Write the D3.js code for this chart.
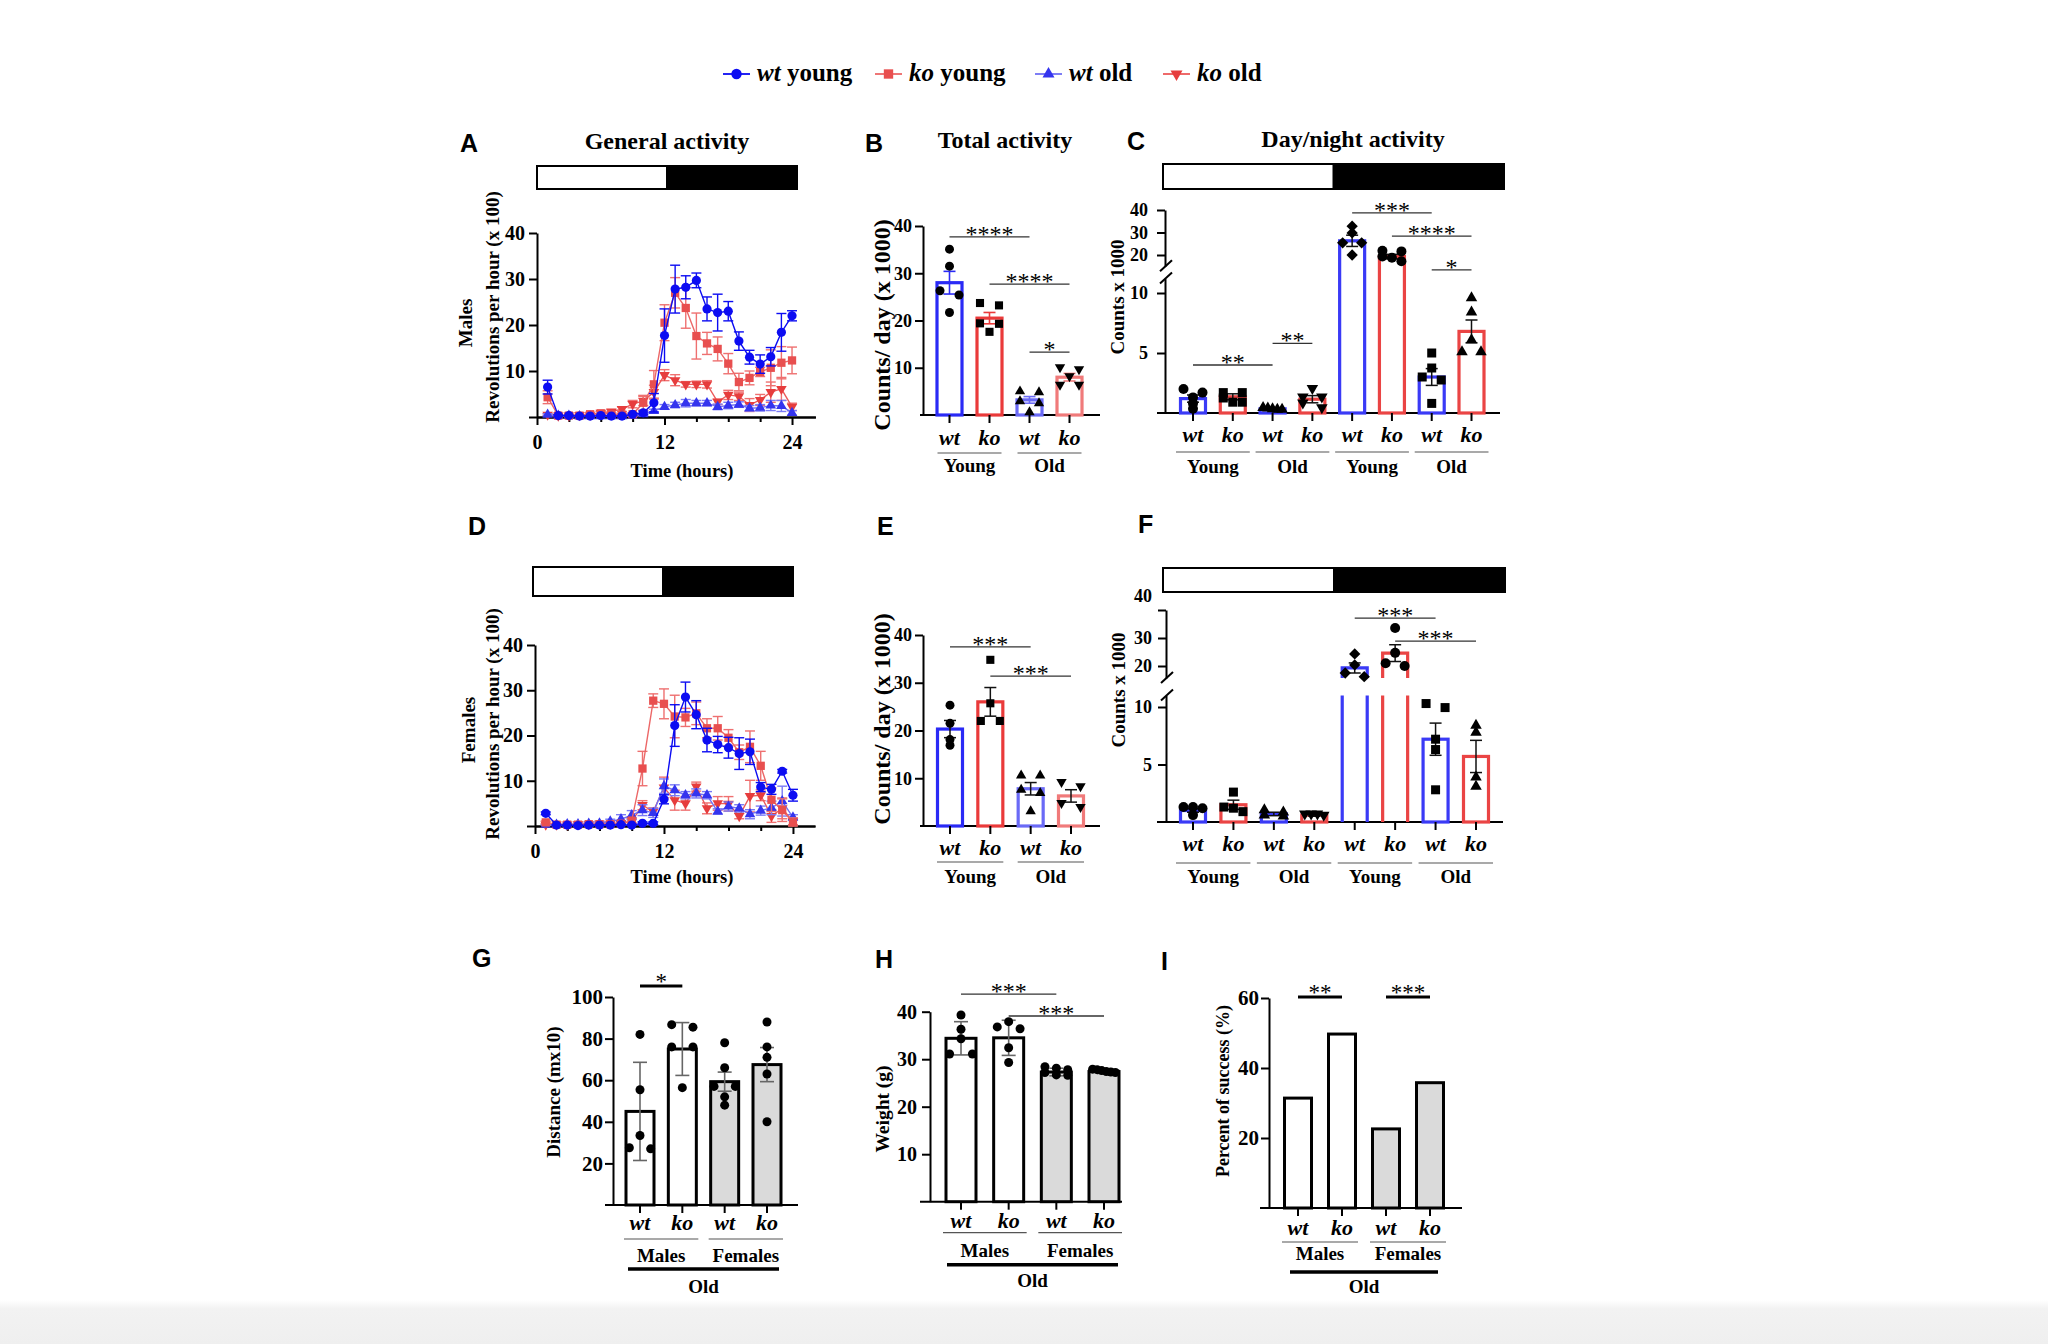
<!DOCTYPE html>
<html>
<head>
<meta charset="utf-8">
<script src="https://cdn.jsdelivr.net/npm/d3@7/dist/d3.min.js"></script>
<style>
html,body{margin:0;padding:0;background:#fff;}
svg{display:block;}
svg text{font-family:"Liberation Serif","Times New Roman",serif;font-weight:bold;fill:#000;}
svg text.sans{font-family:"Liberation Sans",Arial,sans-serif;}
</style>
</head>
<body>
<script>
// ================= DATA =================
const hours = [1,2,3,4,5,6,7,8,9,10,11,12,13,14,15,16,17,18,19,20,21,22,23,24];
const hourMajorTicks = [0,12,24];
const hourMinorTicks = [3,6,9,15,18,21];
const lineYTicks = [0,10,20,30,40];

// Panel A – males, revolutions per hour (x100)
const maleWtYoung    = [6.5,0.3,0.3,0.2,0.2,0.3,0.2,0.2,0.6,0.9,3.1,17.7,27.8,28.2,29.7,23.5,22.7,23.0,16.5,13.0,11.5,13.1,18.4,22.0];
const maleWtYoungErr = [1.5,0.2,0.1,0.1,0.1,0.1,0.1,0.1,0.2,0.4,2.0,5.8,5.2,2.5,1.6,2.6,4.0,2.1,2.0,1.5,2.0,2.0,4.1,1.1];
const maleKoYoung    = [4.3,0.3,0.3,0.3,0.6,0.8,0.6,0.5,0.6,3.1,7.1,20.5,27.0,23.7,17.6,16.0,14.8,11.6,7.6,8.5,9.8,10.7,11.8,12.3];
const maleKoYoungErr = [1.4,0.2,0.2,0.2,0.3,0.4,0.3,0.3,0.3,1.6,3.0,3.9,3.3,4.4,5.0,2.4,2.6,2.2,1.9,1.5,1.0,3.9,3.5,2.9];
const maleWtOld      = [0.5,0.3,0.3,0.2,0.2,0.2,0.2,0.2,0.3,0.6,1.3,2.2,2.6,3.0,3.0,3.0,2.2,2.5,2.7,1.9,2.0,2.5,2.4,0.9];
const maleWtOldErr   = [0.2,0.1,0.1,0.1,0.1,0.1,0.1,0.1,0.1,0.2,0.4,0.5,0.6,0.8,0.6,0.6,0.6,0.7,0.6,0.6,0.7,1.1,1.2,0.5];
const maleKoOld      = [0.5,0.3,0.3,0.4,0.5,0.9,1.2,1.7,2.8,3.5,5.4,9.1,8.0,7.1,7.1,7.1,3.3,4.8,4.5,2.6,3.7,5.4,6.1,2.2];
const maleKoOldErr   = [0.2,0.1,0.2,0.2,0.3,0.3,0.4,0.5,0.8,1.0,1.5,1.2,1.2,0.6,0.7,0.8,0.6,1.0,0.9,1.4,1.2,2.2,2.5,0.8];

// Panel D – females
const femWtYoung    = [2.8,0.2,0.2,0.1,0.2,0.2,0.2,0.3,0.2,0.6,0.6,5.9,22.2,28.5,24.6,19.0,18.0,17.3,16.0,16.4,8.6,8.1,12.1,6.8];
const femWtYoungErr = [0.3,0.1,0.1,0.1,0.1,0.1,0.1,0.1,0.1,0.3,0.3,1.0,4.6,3.3,3.1,2.6,1.8,2.3,3.5,2.8,1.0,1.1,0.4,1.3];
const femKoYoung    = [0.8,0.3,0.3,0.3,0.4,0.4,0.4,0.5,1.2,12.7,27.7,27.0,24.2,24.0,24.9,21.6,21.6,19.5,16.3,17.5,13.3,5.8,3.5,0.8];
const femKoYoungErr = [0.3,0.1,0.1,0.1,0.2,0.2,0.2,0.3,0.5,3.8,1.5,3.3,4.7,2.0,2.5,2.1,2.6,1.8,1.6,3.5,3.2,2.6,2.5,1.0];
const femWtOld      = [0.3,0.3,0.4,0.4,0.5,0.6,1.0,1.5,2.4,3.5,2.9,8.8,7.9,6.8,7.2,6.8,3.2,4.3,3.9,2.6,3.4,4.0,5.5,1.9];
const femWtOldErr   = [0.1,0.2,0.2,0.2,0.3,0.4,0.5,1.0,1.0,1.2,1.0,1.6,1.2,0.8,1.0,0.8,0.6,1.0,0.8,1.0,1.0,1.5,3.3,0.6];
const femKoOld      = [0.3,0.3,0.3,0.4,0.4,0.5,0.5,0.6,1.0,4.6,3.2,8.5,5.7,5.0,8.7,3.9,5.0,4.9,2.2,6.6,6.8,2.2,3.9,1.0];
const femKoOldErr   = [0.1,0.1,0.1,0.2,0.2,0.2,0.2,0.3,0.5,1.0,0.8,2.3,2.2,1.5,1.0,1.2,1.5,1.6,0.6,3.5,1.2,1.4,2.3,0.7];

// category labels
const legendGenotypes = ["wt","ko","wt","ko"];
const legendAges = [" young"," young"," old"," old"];
const genoLabels4 = ["wt","ko","wt","ko"];
const genoLabels8 = ["wt","ko","wt","ko","wt","ko","wt","ko"];
const ageGroups2 = ["Young","Old"];
const ageGroups4 = ["Young","Old","Young","Old"];
const sexGroups = ["Males","Females"];

// Panel B – total activity, males (counts/day x1000)
const totalMaleMeans = [28.0, 20.5, 3.2, 8.0];
const totalMaleErr   = [2.4, 1.2, 0.7, 0.8];
const totalMalePoints = [
  [35.1, 31.5, 26.3, 25.4, 21.7],
  [23.7, 23.2, 19.4, 19.3, 17.6],
  [5.0, 4.8, 2.9, 2.5, 0.6],
  [10.1, 9.7, 8.2, 6.4, 6.4]
];
const totalTicks = [10,20,30,40];

// Panel C – day/night, males (counts x1000); order: day wtY koY wtO koO, night wtY koY wtO koO
const dnMaleMeans = [1.2, 1.35, 0.35, 1.15, 26.3, 19.3, 3.0, 6.8];
const dnMaleErr   = [0.3, 0.25, 0.05, 0.3, 2.5, 1.0, 0.7, 0.95];
const dnMalePoints = [
  [2.0, 1.7, 1.3, 0.8, 0.35],
  [1.7, 1.7, 1.25, 0.9, 0.9],
  [0.45, 0.4, 0.35, 0.3, 0.3],
  [2.05, 1.35, 1.35, 0.85, 0.45],
  [32.8, 29.8, 25.4, 25.4, 20.0],
  [21.9, 21.6, 19.3, 18.8, 17.2],
  [5.0, 3.75, 3.0, 2.75, 0.8],
  [9.6, 8.4, 6.1, 5.1, 5.1]
];
const dnLowTicks = [5,10];
const dnHighTicks = [20,30,40];

// Panel E – total activity, females
const totalFemMeans = [20.3, 26.0, 7.8, 6.3];
const totalFemErr   = [1.8, 3.0, 1.3, 1.3];
const totalFemPoints = [
  [25.3, 21.5, 18.1, 16.9],
  [34.8, 25.7, 22.0, 22.0],
  [10.6, 10.6, 7.6, 6.9, 3.1],
  [9.2, 8.3, 4.8, 4.0]
];

// Panel F – day/night, females
const dnFemMeans = [1.0, 1.5, 0.7, 0.6, 19.3, 24.6, 7.2, 5.7];
const dnFemErr   = [0.15, 0.4, 0.15, 0.1, 1.8, 3.0, 1.4, 1.4];
const dnFemPoints = [
  [1.3, 1.3, 1.2, 0.6],
  [2.6, 1.3, 1.2, 0.9],
  [1.05, 0.85, 0.6, 0.5],
  [0.7, 0.7, 0.7, 0.6],
  [24.3, 20.4, 17.5, 16.2],
  [33.6, 24.7, 21.0, 20.0],
  [10.3, 9.95, 7.2, 6.3, 2.8],
  [8.4, 7.8, 3.9, 3.1]
];

// Panel G – distance (m x10), old animals
const distMeans = [45.0, 75.0, 59.3, 67.5];
const distSD    = [23.6, 12.7, 4.6, 8.2];
const distPoints = [
  [82, 55.4, 33.4, 27.5, 27],
  [86.7, 85.5, 76, 76, 56.4],
  [78, 66, 57, 57, 52, 48],
  [88, 76, 71, 63, 40]
];
const distTicks = [20,40,60,80,100];

// Panel H – weight (g)
const weightMeans = [34.4, 34.5, 27.3, 27.4];
const weightSD    = [3.5, 3.7, 0.8, 0.4];
const weightPoints = [
  [39.3, 36.3, 34.3, 31.1, 31.1],
  [37.9, 36.8, 36.4, 32.4, 29.3],
  [28.4, 28.1, 27.8, 27.2, 26.7, 26.6],
  [27.9, 27.8, 27.6, 27.4, 27.3, 27.2]
];
const weightTicks = [10,20,30,40];

// Panel I – percent of success
const successMeans = [31.4, 49.7, 22.6, 35.8];
const successTicks = [20,40,60];

// significance marks: category indices, height in data units, label
const sigB = [{a:0,b:2,v:37.7,t:"****"},{a:1,b:3,v:27.7,t:"****"},{a:2,b:3,v:13.3,t:"*"}];
const sigC = [{a:0,b:2,v:4.0,t:"**"},{a:2,b:3,v:5.8,t:"**"},{a:4,b:6,v:38.7,t:"***"},{a:5,b:7,v:28.4,t:"****"},{a:6,b:7,v:13.9,t:"*"}];
const sigE = [{a:0,b:2,v:37.5,t:"***"},{a:1,b:3,v:31.4,t:"***"}];
const sigF = [{a:4,b:6,v:37.1,t:"***"},{a:5,b:7,v:28.9,t:"***"}];
const sigG = [{a:0,b:1,v:105.3,t:"*"}];
const sigH = [{a:0,b:2,v:43.7,t:"***"},{a:1,b:3,v:39.1,t:"***"}];
const sigI = [{a:0,b:1,v:60.3,t:"**"},{a:2,b:3,v:60.3,t:"***"}];

// ================= STYLE =================
const COL = {
  wtY:"#0c0cf2", koY:"#e84f4f", wtO:"#3434ee", koO:"#e63d3d",
  koYLine:"#ec6767", wtOLine:"#7070f4", koOLine:"#ec5a5a",
  koYErr:"#ee7070", wtOErr:"#7a7af5", koOErr:"#ef7070"
};

const svg = d3.select("body").append("svg").attr("width",2048).attr("height",1344);

// bottom grey fade
const defs = svg.append("defs");
const grad = defs.append("linearGradient").attr("id","bottomFade").attr("x1",0).attr("x2",0).attr("y1",0).attr("y2",1);
grad.append("stop").attr("offset","0").attr("stop-color","#ffffff");
grad.append("stop").attr("offset","0.2").attr("stop-color","#f2f2f2");
grad.append("stop").attr("offset","1").attr("stop-color","#efefef");
svg.append("rect").attr("x",0).attr("y",1300).attr("width",2048).attr("height",44).attr("fill","url(#bottomFade)");

function styleAxis(sel, fs) {
  sel.attr("font-size", fs).attr("font-family", null);
  sel.select(".domain").attr("stroke","#000").attr("stroke-width",2);
  sel.selectAll(".tick line").attr("stroke","#000").attr("stroke-width",2);
  sel.selectAll(".tick text").attr("fill","#000");
}
function markerPath(kind, r) {
  switch (kind) {
    case "circle": return d3.symbol(d3.symbolCircle, Math.PI*r*r)();
    case "square": return d3.symbol(d3.symbolSquare, (1.8*r)*(1.8*r))();
    case "diamond": return d3.symbol(d3.symbolSquare, (1.6*r)*(1.6*r))();
    default: return d3.symbol(d3.symbolTriangle, 2.3*r*r)();
  }
}
function markerRot(kind) { return kind === "down" ? 180 : (kind === "diamond" ? 45 : 0); }
function txt(g, x, y, s, fs, opt) {
  opt = opt || {};
  const t = g.append("text").attr("x",x).attr("y",y).attr("font-size",fs)
    .attr("text-anchor", opt.anchor || "middle").text(s);
  if (opt.italic) t.attr("font-style","italic");
  if (opt.cls) t.attr("class", opt.cls);
  if (opt.normal) t.style("font-weight","normal");
  return t;
}
function vtxt(g, x, y, s, fs) {
  return g.append("text").attr("transform",`translate(${x},${y}) rotate(-90)`)
    .attr("text-anchor","middle").attr("dy","0.35em").attr("font-size",fs).text(s);
}
function dayNight(x0, x1, y0, h) {
  const mid = (x0 + x1) / 2;
  svg.append("rect").attr("x",mid).attr("y",y0).attr("width",x1-mid).attr("height",h).attr("fill","#000").attr("stroke","#000").attr("stroke-width",2);
  svg.append("rect").attr("x",x0).attr("y",y0).attr("width",mid-x0).attr("height",h).attr("fill","#fff").attr("stroke","#000").attr("stroke-width",2);
}
function sigMark(g, x1, x2, y, t, thick) {
  g.append("line").attr("x1",x1).attr("x2",x2).attr("y1",y).attr("y2",y)
    .attr("stroke", thick ? "#000" : "#333").attr("stroke-width", thick ? 3 : 1.3);
  txt(g, (x1+x2)/2, y + (thick ? 3 : 5), t, thick ? 23 : 24, {normal:true});
}
// simple swarm layout: points close in y share a row and are spread horizontally
function swarm(vals, yf, r, spread) {
  const s = vals.map(v => ({v, py: yf(v)})).sort((a,b) => a.py - b.py);
  const rows = [];
  s.forEach(p => {
    const last = rows[rows.length-1];
    if (last && Math.abs(p.py - last[0].py) < r) last.push(p); else rows.push([p]);
  });
  const out = [];
  rows.forEach(row => {
    const n = row.length;
    row.forEach((p,k) => out.push({v:p.v, py:p.py, dx: n === 1 ? 0 : -spread + 2*spread*k/(n-1)}));
  });
  return out;
}

// ================= LINE PANELS (A, D) =================
function linePanel(o) {
  const g = svg.append("g");
  const x = d3.scaleLinear().domain(o.xDomain).range(o.xRange);
  const y = d3.scaleLinear().domain([0,40]).range(o.yRange);
  const y0 = y(0);
  g.append("g").attr("transform",`translate(0,${y0})`)
    .call(d3.axisBottom(x).tickValues(hourMinorTicks).tickSize(5).tickSizeOuter(0).tickFormat(""))
    .call(styleAxis, 20);
  g.append("g").attr("transform",`translate(0,${y0})`)
    .call(d3.axisBottom(x).tickValues(hourMajorTicks).tickSize(8).tickSizeOuter(0).tickPadding(10))
    .call(styleAxis, 20);
  g.append("g").attr("transform",`translate(${x(0)},0)`)
    .call(d3.axisLeft(y).tickValues(lineYTicks).tickSize(8).tickSizeOuter(0).tickPadding(4).tickFormat(d => d === 0 ? "" : d))
    .call(styleAxis, 20);
  o.series.forEach(s => {
    const pts = hours.map((h,i) => ({h, v:s.v[i], e:s.e[i]}));
    const eb = g.append("g").attr("stroke", s.err).attr("stroke-width",1.4);
    pts.forEach(p => {
      const xx = x(p.h), ya = y(p.v + p.e), yb = y(Math.max(0, p.v - p.e));
      eb.append("line").attr("x1",xx).attr("x2",xx).attr("y1",ya).attr("y2",yb);
      eb.append("line").attr("x1",xx-5).attr("x2",xx+5).attr("y1",ya).attr("y2",ya);
      eb.append("line").attr("x1",xx-5).attr("x2",xx+5).attr("y1",yb).attr("y2",yb);
    });
    g.append("path").datum(pts)
      .attr("d", d3.line().x(p => x(p.h)).y(p => y(p.v)))
      .attr("fill","none").attr("stroke", s.line).attr("stroke-width",1.4);
    g.append("g").selectAll("path").data(pts).join("path")
      .attr("d", markerPath(s.marker, 4.6))
      .attr("transform", p => `translate(${x(p.h)},${y(p.v)}) rotate(${markerRot(s.marker)})`)
      .attr("fill", s.color);
  });
  vtxt(g, o.sexX, o.sexY, o.sex, 19);
  vtxt(g, o.titleX, o.titleY, "Revolutions per hour (x 100)", 19);
  txt(g, o.xTitleX, o.xTitleY, "Time (hours)", 18.5);
}

function lineSeries(wy, wye, ky, kye, wo, woe, ko, koe) {
  return [
    {v:ko, e:koe, color:COL.koO, line:COL.koOLine, err:COL.koOErr, marker:"down"},
    {v:wo, e:woe, color:COL.wtO, line:COL.wtOLine, err:COL.wtOErr, marker:"up"},
    {v:ky, e:kye, color:COL.koY, line:COL.koYLine, err:COL.koYErr, marker:"square"},
    {v:wy, e:wye, color:COL.wtY, line:COL.wtY, err:COL.wtY, marker:"circle"}
  ];
}

// ================= BAR PANELS =================
function barPanel(o) {
  const g = svg.append("g");
  const n = o.means.length;
  const xp = d3.scalePoint().domain(d3.range(n)).range(o.xRange);
  let yf, y0;
  if (o.broken) {
    const b = o.broken;
    const low = d3.scaleLinear().domain([0, b.lowMax]).range([b.low(0), b.low(b.lowMax)]);
    const high = d3.scaleLinear().domain([b.highMin, b.top]).range([b.high(b.highMin), b.high(b.top)]);
    yf = v => v <= b.lowMax ? low(v) : (v >= b.highMin ? high(v) :
      low(b.lowMax) + (v - b.lowMax)/(b.highMin - b.lowMax)*(high(b.highMin) - low(b.lowMax)));
    y0 = low(0);
    g.append("g").attr("transform",`translate(${o.axisX},0)`)
      .call(d3.axisLeft(low).tickValues(b.lowTicks).tickSize(8).tickSizeOuter(0).tickPadding(o.tickPad))
      .call(styleAxis, o.tickFont);
    const ha = g.append("g").attr("transform",`translate(${o.axisX},0)`)
      .call(d3.axisLeft(high).tickValues(b.highTicks).tickSize(8).tickSizeOuter(0).tickPadding(o.tickPad))
      .call(styleAxis, o.tickFont);
    if (b.topLabelShift) ha.selectAll(".tick text").filter(d => d === b.top).attr("transform",`translate(0,${b.topLabelShift})`);
    [low(b.lowMax), high(b.highMin)].forEach(yy => {
      g.append("line").attr("x1",o.axisX-5).attr("x2",o.axisX+7).attr("y1",yy+5).attr("y2",yy-6)
        .attr("stroke","#000").attr("stroke-width",2);
    });
    o._b = {low, high, b};
  } else {
    yf = o.y;
    y0 = o.y(0);
    g.append("g").attr("transform",`translate(${o.axisX},0)`)
      .call(d3.axisLeft(o.y).tickValues(o.ticks).tickSize(8).tickSizeOuter(0).tickPadding(o.tickPad))
      .call(styleAxis, o.tickFont);
  }
  // x axis
  g.append("line").attr("x1",o.xExt[0]).attr("x2",o.xExt[1]).attr("y1",y0).attr("y2",y0)
    .attr("stroke","#000").attr("stroke-width",2);
  // bars
  const hw = o.barW/2;
  o.means.forEach((m,i) => {
    const cx = xp(i);
    if (o.gapBars && o.broken && m > o.broken.highMin) {
      const {low, high, b} = o._b;
      g.append("path").attr("d",`M${cx-hw},${high(b.highMin)}V${high(m)}H${cx+hw}V${high(b.highMin)}`)
        .attr("fill",o.fills[i]).attr("stroke",o.edges[i]).attr("stroke-width",o.barStroke);
      g.append("path").attr("d",`M${cx-hw},${low(0)}V${low(b.lowMax)}M${cx+hw},${low(0)}V${low(b.lowMax)}`)
        .attr("fill","none").attr("stroke",o.edges[i]).attr("stroke-width",o.barStroke);
    } else {
      g.append("rect").attr("x",cx-hw).attr("y",yf(m)).attr("width",o.barW).attr("height",y0-yf(m))
        .attr("fill",o.fills[i]).attr("stroke",o.edges[i]).attr("stroke-width",o.barStroke);
    }
  });
  // x ticks at categories
  o.means.forEach((m,i) => {
    g.append("line").attr("x1",xp(i)).attr("x2",xp(i)).attr("y1",y0).attr("y2",y0+8)
      .attr("stroke","#000").attr("stroke-width",2);
  });
  // error bars
  if (o.errs) {
    o.errs.forEach((e,i) => {
      const cx = xp(i), ya = yf(o.means[i]+e), yb = yf(Math.max(0,o.means[i]-e));
      const eg = g.append("g").attr("stroke",o.errColors[i]).attr("stroke-width",o.errWidth);
      eg.append("line").attr("x1",cx).attr("x2",cx).attr("y1",ya).attr("y2",yb);
      eg.append("line").attr("x1",cx-o.cap).attr("x2",cx+o.cap).attr("y1",ya).attr("y2",ya);
      eg.append("line").attr("x1",cx-o.cap).attr("x2",cx+o.cap).attr("y1",yb).attr("y2",yb);
    });
  }
  // points
  if (o.points) {
    o.points.forEach((vals,i) => {
      const lay = swarm(vals, yf, o.pointR, o.barW*0.38);
      g.append("g").selectAll("path").data(lay).join("path")
        .attr("d", markerPath(o.markers[i], o.pointR))
        .attr("transform", p => `translate(${xp(i)+p.dx},${p.py}) rotate(${markerRot(o.markers[i])})`)
        .attr("fill","#000");
    });
  }
  // significance
  o.sig.forEach(s => sigMark(g, xp(s.a), xp(s.b), yf(s.v), s.t, o.sigThick));
  // category labels
  o.labels.forEach((l,i) => txt(g, xp(i), y0 + o.labelDy, l, 22, {italic:true}));
  o.groups.forEach((gr,k) => {
    const a = xp(2*k), b = xp(2*k+1);
    g.append("line").attr("x1",a-o.underPad).attr("x2",b+o.underPad).attr("y1",y0+o.underDy).attr("y2",y0+o.underDy)
      .attr("stroke","#555").attr("stroke-width",1.2);
    txt(g, (a+b)/2, y0 + o.groupDy, gr, 19);
  });
  if (o.oldLine) {
    const a = xp(0), b = xp(n-1);
    g.append("line").attr("x1",a-o.oldLine.pad).attr("x2",b+o.oldLine.pad).attr("y1",y0+o.oldLine.dy).attr("y2",y0+o.oldLine.dy)
      .attr("stroke","#000").attr("stroke-width",3.5);
    txt(g, (a+b)/2, y0 + o.oldLine.textDy, "Old", 19);
  }
  vtxt(g, o.yTitle.x, o.yTitle.y, o.yTitle.t, o.yTitle.fs);
}

// ================= LEGEND =================
(function legend() {
  const styles = [
    {color:COL.wtY, line:COL.wtY, m:"circle"},
    {color:COL.koY, line:COL.koYLine, m:"square"},
    {color:COL.wtO, line:COL.wtOLine, m:"up"},
    {color:COL.koO, line:COL.koOLine, m:"down"}
  ];
  const starts = [723, 875, 1035, 1163];
  const lg = svg.append("g");
  legendGenotypes.forEach((geno, i) => {
    const sx = starts[i], st = styles[i];
    lg.append("line").attr("x1",sx).attr("x2",sx+27).attr("y1",74).attr("y2",74).attr("stroke",st.line).attr("stroke-width",1.8);
    lg.append("path").attr("d",markerPath(st.m,5.2)).attr("transform",`translate(${sx+13.5},74) rotate(${markerRot(st.m)})`).attr("fill",st.color);
    const t = lg.append("text").attr("x",sx+34).attr("y",81).attr("font-size",25);
    t.append("tspan").attr("font-style","italic").text(geno);
    t.append("tspan").text(legendAges[i]);
  });
})();

// ================= PANEL A =================
txt(svg, 460, 152, "A", 25, {anchor:"start", cls:"sans"});
txt(svg, 667, 149, "General activity", 24);
dayNight(537, 797, 166, 23);
linePanel({
  xDomain:[0,26.2], xRange:[537,815.4], yRange:[417,233],
  series: lineSeries(maleWtYoung, maleWtYoungErr, maleKoYoung, maleKoYoungErr, maleWtOld, maleWtOldErr, maleKoOld, maleKoOldErr),
  sex:"Males", sexX:465, sexY:323, titleX:492, titleY:307, xTitleX:682, xTitleY:477
});

// ================= PANEL D =================
txt(svg, 468, 535, "D", 25, {anchor:"start", cls:"sans"});
dayNight(533, 793, 567, 29);
linePanel({
  xDomain:[0,26.05], xRange:[535,815], yRange:[826,645],
  series: lineSeries(femWtYoung, femWtYoungErr, femKoYoung, femKoYoungErr, femWtOld, femWtOldErr, femKoOld, femKoOldErr),
  sex:"Females", sexX:468, sexY:730, titleX:492, titleY:724, xTitleX:682, xTitleY:883
});

// ================= PANEL B =================
const edges4 = ["#2a2af6","#ea3a3a","#6a6af6","#f07a7a"];
txt(svg, 865, 152, "B", 25, {anchor:"start", cls:"sans"});
txt(svg, 1005, 148, "Total activity", 24);
barPanel({
  means:totalMaleMeans, errs:totalMaleErr, points:totalMalePoints,
  markers:["circle","square","up","down"], edges:edges4, fills:["#fff","#fff","#fff","#fff"], errColors:edges4,
  xRange:[949.5,1069.5], barW:25, barStroke:3.2, axisX:923, xExt:[920,1100],
  y:d3.scaleLinear().domain([0,40]).range([415,226]), ticks:totalTicks, tickPad:3, tickFont:18,
  errWidth:1.6, cap:6, pointR:4.5,
  sig:sigB, sigThick:false,
  labels:genoLabels4, labelDy:30, groups:ageGroups2, underDy:38, underPad:12, groupDy:57,
  yTitle:{x:882, y:325, t:"Counts/ day (x 1000)", fs:24}
});

// ================= PANEL E =================
txt(svg, 877, 535, "E", 25, {anchor:"start", cls:"sans"});
barPanel({
  means:totalFemMeans, errs:totalFemErr, points:totalFemPoints,
  markers:["circle","square","up","down"], edges:edges4, fills:["#fff","#fff","#fff","#fff"], errColors:["#111","#111","#111","#111"],
  xRange:[950,1071], barW:25, barStroke:3.2, axisX:923, xExt:[920,1100],
  y:d3.scaleLinear().domain([0,40]).range([826,635]), ticks:totalTicks, tickPad:3, tickFont:18,
  errWidth:1.5, cap:6, pointR:4.5,
  sig:sigE, sigThick:false,
  labels:genoLabels4, labelDy:29, groups:ageGroups2, underDy:36, underPad:13, groupDy:57,
  yTitle:{x:882, y:719, t:"Counts/ day (x 1000)", fs:24}
});

// ================= PANEL C =================
const edges8 = ["#3a3af6","#ea4444","#3a3af6","#ea4444","#3a3af6","#ea4444","#3a3af6","#ea4444"];
const white8 = ["#fff","#fff","#fff","#fff","#fff","#fff","#fff","#fff"];
const black8 = ["#111","#111","#111","#111","#111","#111","#111","#111"];
const markers8 = ["circle","square","up","down","diamond","circle","square","up"];
txt(svg, 1127, 150, "C", 25, {anchor:"start", cls:"sans"});
txt(svg, 1353, 147, "Day/night activity", 24);
dayNight(1163, 1504, 164, 25);
barPanel({
  means:dnMaleMeans, errs:dnMaleErr, points:dnMalePoints,
  markers:markers8, edges:edges8, fills:white8, errColors:black8,
  xRange:[1193,1471.5], barW:25, barStroke:3.2, axisX:1165, xExt:[1157,1500],
  broken:{low:d3.scaleLinear().domain([0,10]).range([413,293]), high:d3.scaleLinear().domain([20,40]).range([255,210]),
          lowMax:11.2, highMin:15, top:40, lowTicks:dnLowTicks, highTicks:dnHighTicks},
  gapBars:false, tickPad:9, tickFont:18,
  errWidth:1.5, cap:6, pointR:5,
  sig:sigC, sigThick:false,
  labels:genoLabels8, labelDy:29, groups:ageGroups4, underDy:39, underPad:17, groupDy:60,
  yTitle:{x:1117, y:297, t:"Counts x 1000", fs:19}
});

// ================= PANEL F =================
txt(svg, 1138, 533, "F", 25, {anchor:"start", cls:"sans"});
dayNight(1163, 1505, 568, 24);
barPanel({
  means:dnFemMeans, errs:dnFemErr, points:dnFemPoints,
  markers:markers8, edges:edges8, fills:white8, errColors:black8,
  xRange:[1193,1476], barW:25, barStroke:3.2, axisX:1166, xExt:[1157,1503],
  broken:{low:d3.scaleLinear().domain([0,10]).range([822,707]), high:d3.scaleLinear().domain([20,40]).range([666,610]),
          lowMax:11, highMin:15.7, top:40, lowTicks:dnLowTicks, highTicks:dnHighTicks, topLabelShift:-14},
  gapBars:true, tickPad:6, tickFont:18,
  errWidth:1.5, cap:6, pointR:5,
  sig:sigF, sigThick:false,
  labels:genoLabels8, labelDy:29, groups:ageGroups4, underDy:41, underPad:17, groupDy:61,
  yTitle:{x:1118, y:690, t:"Counts x 1000", fs:19}
});

// ================= PANEL G =================
const blk4 = ["#000","#000","#000","#000"];
const sexFills = ["#fff","#fff","#dadada","#dadada"];
const grey4 = ["#666","#666","#666","#666"];
txt(svg, 472, 967, "G", 25, {anchor:"start", cls:"sans"});
barPanel({
  means:distMeans, errs:distSD, points:distPoints,
  markers:["circle","circle","circle","circle"], edges:blk4, fills:sexFills, errColors:grey4,
  xRange:[640,767], barW:28, barStroke:3, axisX:613, xExt:[605,798],
  y:d3.scaleLinear().domain([0,100]).range([1205,997]), ticks:distTicks, tickPad:2, tickFont:21,
  errWidth:1.6, cap:7, pointR:4.5,
  sig:sigG, sigThick:true,
  labels:genoLabels4, labelDy:25, groups:sexGroups, underDy:34, underPad:16, groupDy:57,
  oldLine:{dy:64, pad:12, textDy:88},
  yTitle:{x:553, y:1092, t:"Distance (mx10)", fs:19}
});

// ================= PANEL H =================
txt(svg, 875, 968, "H", 25, {anchor:"start", cls:"sans"});
barPanel({
  means:weightMeans, errs:weightSD, points:weightPoints,
  markers:["circle","circle","circle","circle"], edges:blk4, fills:sexFills, errColors:grey4,
  xRange:[961,1104], barW:30, barStroke:3, axisX:930, xExt:[920,1122],
  y:d3.scaleLinear().domain([0,40]).range([1201.7,1011.7]), ticks:weightTicks, tickPad:5, tickFont:20,
  errWidth:1.6, cap:7, pointR:4.5,
  sig:sigH, sigThick:false,
  labels:genoLabels4, labelDy:26, groups:sexGroups, underDy:31, underPad:18, groupDy:55,
  oldLine:{dy:63, pad:14, textDy:85},
  yTitle:{x:882, y:1109, t:"Weight (g)", fs:19.5}
});

// ================= PANEL I =================
txt(svg, 1161, 970, "I", 25, {anchor:"start", cls:"sans"});
barPanel({
  means:successMeans, errs:null, points:null,
  markers:[], edges:blk4, fills:sexFills, errColors:blk4,
  xRange:[1298,1430], barW:27, barStroke:3, axisX:1269, xExt:[1260,1462],
  y:d3.scaleLinear().domain([0,60]).range([1208,998]), ticks:successTicks, tickPad:2, tickFont:21,
  errWidth:1.5, cap:6, pointR:4.5,
  sig:sigI, sigThick:true,
  labels:genoLabels4, labelDy:27, groups:sexGroups, underDy:34, underPad:16, groupDy:52,
  oldLine:{dy:64, pad:8, textDy:85},
  yTitle:{x:1223, y:1091, t:"Percent of success (%)", fs:18}
});
</script>
</body>
</html>
